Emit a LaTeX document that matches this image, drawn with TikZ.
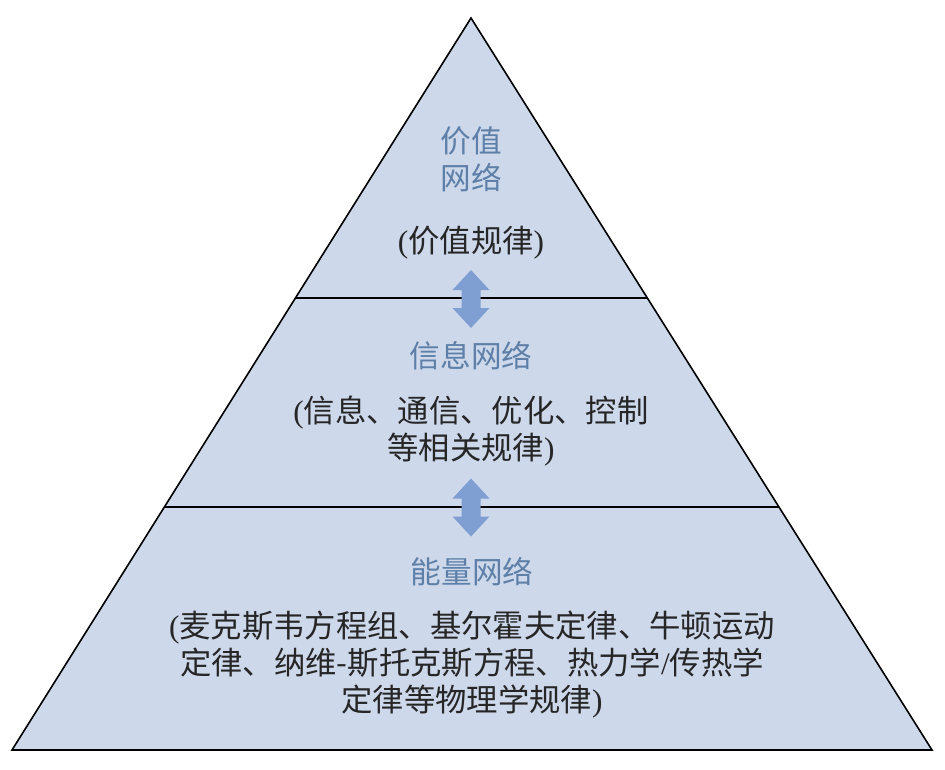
\documentclass[tikz,border=0pt]{standalone}
\usepackage{fontspec}
\setmainfont{Liberation Serif}
\newfontfamily\cjk{Noto Sans CJK SC}
\usepackage{xcolor}
\usetikzlibrary{calc}

\definecolor{layerfill}{HTML}{CDD8EB}
\definecolor{arrowblue}{HTML}{7F9ED2}
\definecolor{titleblue}{HTML}{5E80A8}
\definecolor{lawgray}{HTML}{262626}

\tikzset{
  title/.style={text=titleblue, align=center, font=\fontsize{23pt}{28pt}\selectfont\cjk},
  law/.style={text=lawgray, align=center, font=\fontsize{23.5pt}{27.75pt}\selectfont},
  border/.style={draw=black, line width=1.2pt}
}

\begin{document}
\begin{tikzpicture}[x=0.75pt,y=-0.75pt]

\useasboundingbox (0,0) rectangle (945,769);

% pyramid
\coordinate (apex) at (471,18);
\coordinate (baseL) at (12,750);
\coordinate (baseR) at (932,750);
\fill[layerfill] (apex) -- (baseL) -- (baseR) -- cycle;

% layer lines
\coordinate (upL) at ($(apex)!0.3825!(baseL)$);
\coordinate (upR) at ($(apex)!0.3825!(baseR)$);
\coordinate (lowL) at ($(apex)!0.668!(baseL)$);
\coordinate (lowR) at ($(apex)!0.668!(baseR)$);
\draw[border] (upL) -- (upR);
\draw[border] (lowL) -- (lowR);
\draw[border, line join=miter] (apex) -- (baseL) -- (baseR) -- cycle;

% double arrows
\foreach \cy in {299,507.5} {
  \fill[arrowblue] (471,{\cy-29}) -- ++(18.5,20) -- ++(-9,0) -- ++(0,18)
    -- ++(9,0) -- (471,{\cy+29}) -- ++(-18.5,-20) -- ++(9,0) -- ++(0,-18)
    -- ++(-9,0) -- cycle;
}

% value network
\node[title] (valname) at (471,159) {价值\\网络};
\node[law] (vallaw) at (471,243) {({\cjk 价值规律})};

% information network
\node[title] (infoname) at (471,356) {信息网络};
\node[law] (infolaw) at (471,431) {({\cjk 信息、通信、优化、控制}\\{\cjk 等相关规律})};

% energy network
\node[title] (energyname) at (472,572) {能量网络};
\node[law] (energylaw) at (472,665) {({\cjk 麦克斯韦方程组、基尔霍夫定律、牛顿运动}\\{\cjk 定律、纳维-斯托克斯方程、热力学}/{\cjk 传热学}\\{\cjk 定律等物理学规律})};

\end{tikzpicture}
\end{document}
